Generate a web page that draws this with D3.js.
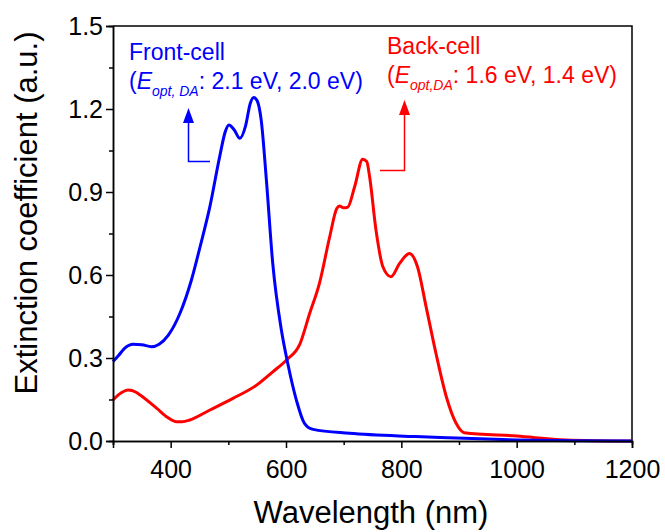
<!DOCTYPE html>
<html>
<head>
<meta charset="utf-8">
<script src="https://cdn.jsdelivr.net/npm/d3@7"></script>
<style>
  html, body { margin: 0; padding: 0; background: #fff; }
  svg { display: block; }
  text { font-family: "Liberation Sans", Arial, Helvetica, sans-serif; }
</style>
</head>
<body>
<svg id="chart" width="665" height="532"></svg>
<script>
// ---- data ----
const frontWavelength = [300, 310, 320, 335, 350, 367, 380, 396, 416, 436, 451, 468, 485, 495, 501, 510, 520, 530, 538, 544, 550, 557, 566, 577, 592, 603, 618, 632, 647, 710, 825, 1000, 1100, 1200];
const frontValue      = [0.287, 0.31, 0.335, 0.350, 0.348, 0.341, 0.35, 0.383, 0.461, 0.582, 0.702, 0.847, 1.028, 1.12, 1.142, 1.125, 1.094, 1.14, 1.22, 1.242, 1.23, 1.16, 0.943, 0.642, 0.401, 0.281, 0.148, 0.064, 0.042, 0.028, 0.016, 0.004, 0.001, 0.0];

const backWavelength = [300, 315, 326, 340, 347, 376, 395, 410, 420, 433, 468, 508, 549, 577, 601, 624, 641, 658, 676, 688, 693, 700, 707, 719, 733, 740, 745, 756, 768, 782, 797, 814, 828, 843, 860, 878, 895, 909, 1000, 1085, 1200];
const backValue      = [0.148, 0.175, 0.184, 0.176, 0.166, 0.118, 0.085, 0.070, 0.070, 0.076, 0.112, 0.154, 0.202, 0.250, 0.293, 0.350, 0.461, 0.570, 0.740, 0.840, 0.849, 0.843, 0.845, 0.919, 1.018, 1.01, 0.955, 0.763, 0.630, 0.594, 0.642, 0.678, 0.630, 0.485, 0.317, 0.160, 0.064, 0.030, 0.018, 0.004, 0.0];

const xMajorTicks = [400, 600, 800, 1000, 1200];
const xMinorTicks = [300, 500, 700, 900, 1100];
const yMajorTicks = [0.0, 0.3, 0.6, 0.9, 1.2, 1.5];
const yMinorTicks = [0.15, 0.45, 0.75, 1.05, 1.35];

const xTitle = "Wavelength (nm)";
const yTitle = "Extinction coefficient (a.u.)";

// ---- layout ----
const svg = d3.select("#chart");
const pLeft = 113, pRight = 632, pTop = 26, pBottom = 441;
const blue = "#0000ff", red = "#ff0000";

const x = d3.scaleLinear().domain([300, 1200]).range([pLeft, pRight]);
const y = d3.scaleLinear().domain([0, 1.5]).range([pBottom, pTop]);

// frame (top & right)
svg.append("path")
  .attr("d", `M${pLeft},${pTop}H${pRight}V${pBottom}`)
  .attr("fill", "none").attr("stroke", "#000").attr("stroke-width", 1.5);

// curves
const line = d3.line().x(d => x(d[0])).y(d => y(d[1])).curve(d3.curveMonotoneX);
const frontData = frontWavelength.map((w, i) => [w, frontValue[i]]);
const backData = backWavelength.map((w, i) => [w, backValue[i]]);

svg.append("path").datum(backData)
  .attr("d", line).attr("fill", "none").attr("stroke", red)
  .attr("stroke-width", 3).attr("stroke-linejoin", "round");
svg.append("path").datum(frontData)
  .attr("d", line).attr("fill", "none").attr("stroke", blue)
  .attr("stroke-width", 3).attr("stroke-linejoin", "round");

// axes
const fmtY = d3.format(".1f");
const xAxisMinor = d3.axisBottom(x).tickValues(xMinorTicks).tickSize(4).tickFormat("");
const xAxis = d3.axisBottom(x).tickValues(xMajorTicks).tickSize(7).tickPadding(12).tickFormat(d3.format("d"));
const yAxisMinor = d3.axisLeft(y).tickValues(yMinorTicks).tickSize(4).tickFormat("");
const yAxis = d3.axisLeft(y).tickValues(yMajorTicks).tickSize(7).tickPadding(3).tickFormat(fmtY);

function styleAxis(g) {
  g.selectAll("path, line").attr("stroke", "#000").attr("stroke-width", 1.5);
  g.selectAll("text").attr("fill", "#000").attr("font-size", 25)
    .attr("font-family", '"Liberation Sans", Arial, sans-serif');
}
svg.append("g").attr("transform", `translate(0,${pBottom})`).call(xAxisMinor).call(styleAxis);
svg.append("g").attr("transform", `translate(0,${pBottom})`).call(xAxis).call(styleAxis);
svg.append("g").attr("transform", `translate(${pLeft},0)`).call(yAxisMinor).call(styleAxis);
svg.append("g").attr("transform", `translate(${pLeft},0)`).call(yAxis).call(styleAxis);

// axis titles
svg.append("text").attr("x", 371).attr("y", 523)
  .attr("text-anchor", "middle").attr("font-size", 31).attr("fill", "#000").text(xTitle);
svg.append("text").attr("transform", "translate(37,213) rotate(-90)")
  .attr("text-anchor", "middle").attr("font-size", 31).attr("fill", "#000").text(yTitle);

// annotations
function label(xp, y1, y2, color, title, sub, rest) {
  svg.append("text").attr("x", xp).attr("y", y1).attr("font-size", 23).attr("fill", color).text(title);
  const t = svg.append("text").attr("x", xp).attr("y", y2).attr("font-size", 23).attr("fill", color);
  t.append("tspan").text("(");
  t.append("tspan").attr("font-style", "italic").text("E");
  t.append("tspan").attr("font-style", "italic").attr("font-size", 14).attr("dy", 7).text(sub);
  t.append("tspan").attr("dy", -7).text(rest);
}
label(129, 60, 89, blue, "Front-cell", "opt, DA", ": 2.1 eV, 2.0 eV)");
label(387, 54, 83, red, "Back-cell", "opt,DA", ": 1.6 eV, 1.4 eV)");

// arrows
function arrow(xv, tipY, baseY, lineY, hx, color) {
  svg.append("path")
    .attr("d", `M${hx},${lineY}H${xv}V${baseY}`)
    .attr("fill", "none").attr("stroke", color).attr("stroke-width", 1.5);
  svg.append("path")
    .attr("d", `M${xv},${tipY}L${xv - 5.5},${baseY}L${xv + 5.5},${baseY}Z`)
    .attr("fill", color);
}
arrow(188.5, 108, 123, 161.5, 210, blue);
arrow(404.5, 100, 115, 170.5, 380, red);
</script>
</body>
</html>
